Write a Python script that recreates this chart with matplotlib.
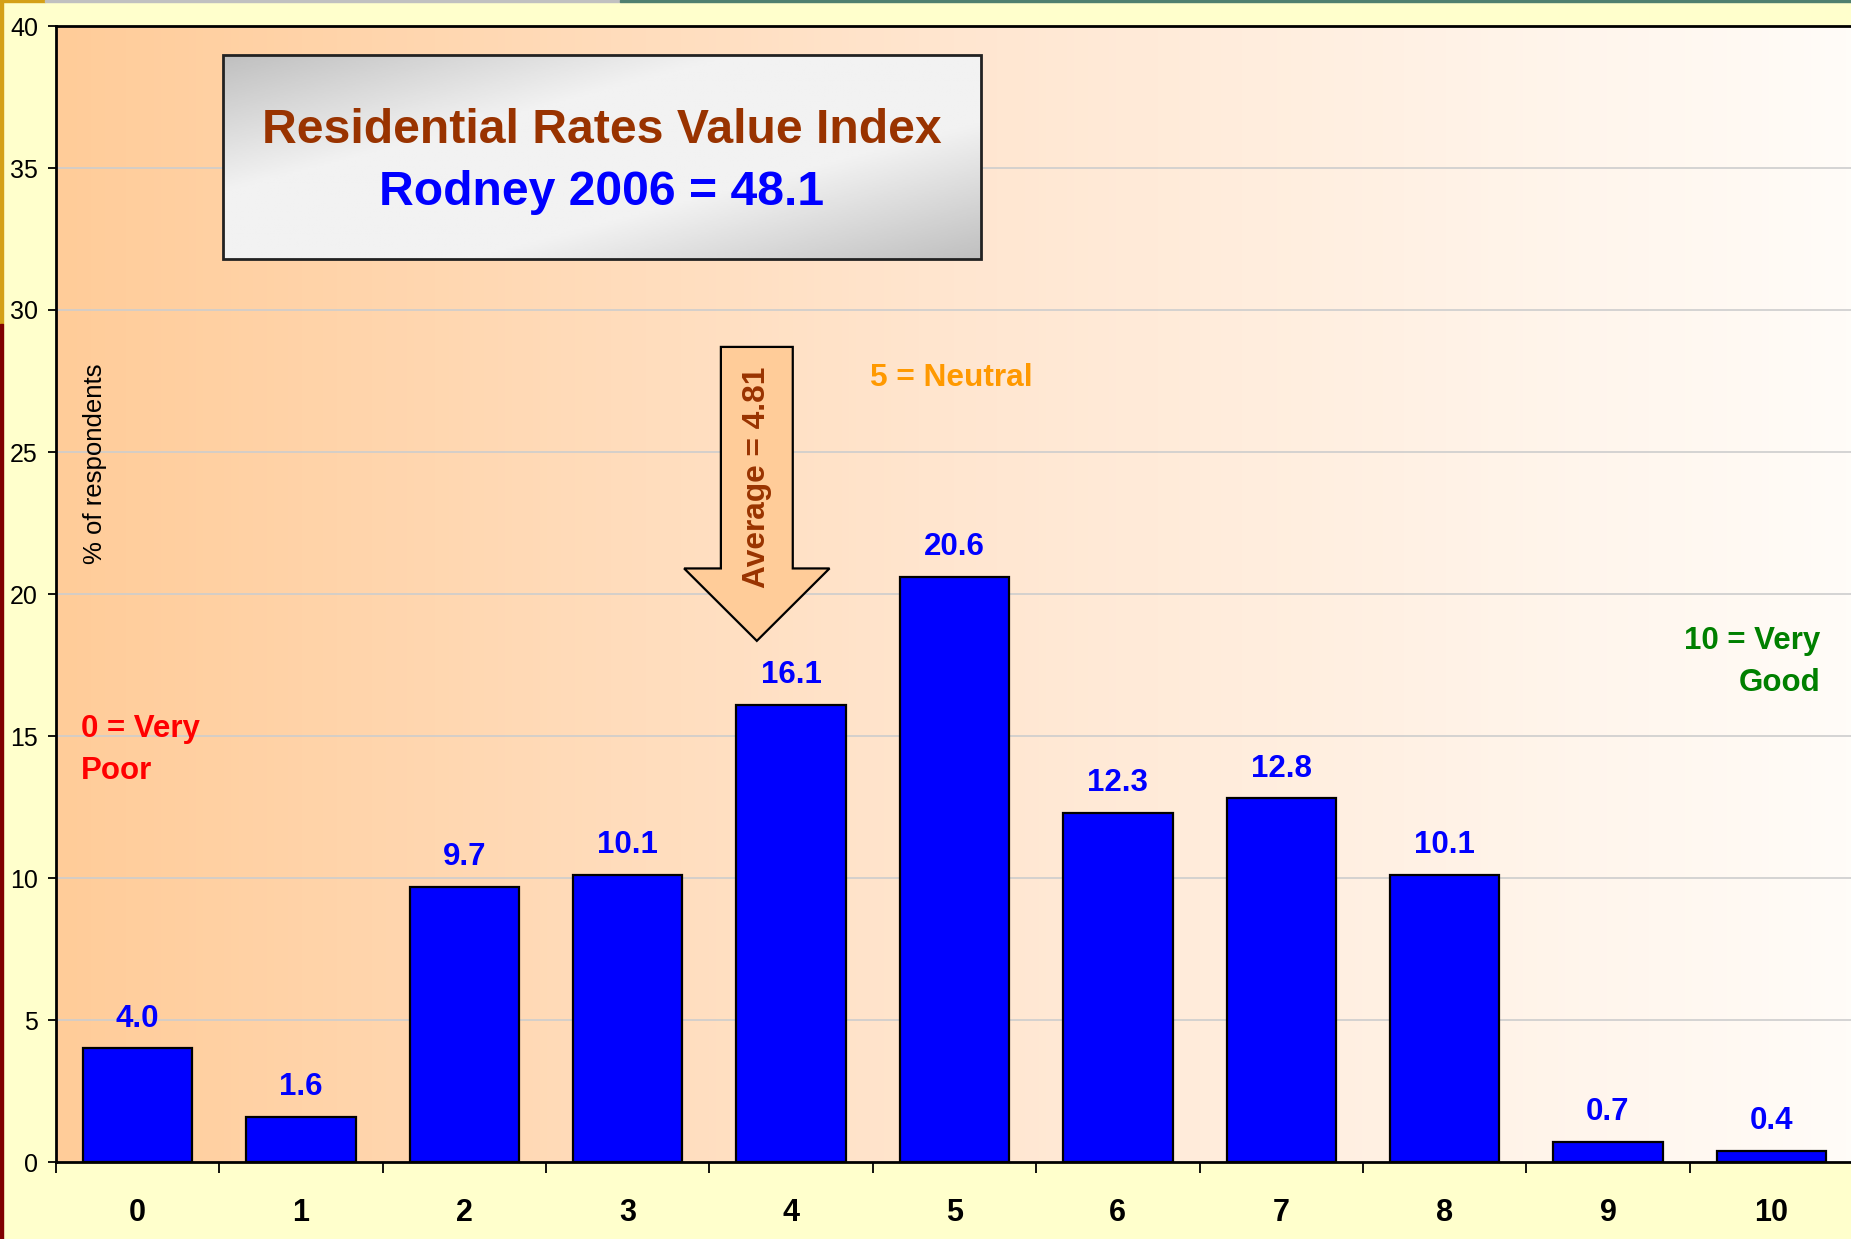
import numpy as np
import matplotlib.pyplot as plt
from matplotlib.patches import Rectangle, FancyArrow
from matplotlib.colors import LinearSegmentedColormap

plt.rcParams['font.family'] = ['Liberation Sans', 'DejaVu Sans']

# data
scores = ['0', '1', '2', '3', '4', '5', '6', '7', '8', '9', '10']
pct = [4.0, 1.6, 9.7, 10.1, 16.1, 20.6, 12.3, 12.8, 10.1, 0.7, 0.4]
y_ticks = [0, 5, 10, 15, 20, 25, 30, 35, 40]

title_line1 = 'Residential Rates Value Index'
title_line2 = 'Rodney 2006 = 48.1'
avg_label = 'Average = 4.81'

W, H = 1851, 1239
fig = plt.figure(figsize=(W / 100, H / 100), dpi=100, facecolor='#FFFFCC')

# slide decoration strips
fig.patches.append(Rectangle((0, 1 - 324 / H), 3 / W, 324 / H, transform=fig.transFigure,
                             color='#D4A017', zorder=0))
fig.patches.append(Rectangle((0, 0), 3 / W, 1 - 324 / H, transform=fig.transFigure,
                             color='#800000', zorder=0))
fig.patches.append(Rectangle((0, 1 - 2 / H), 45 / W, 2 / H, transform=fig.transFigure,
                             color='#D4A017', zorder=0))
fig.patches.append(Rectangle((45 / W, 1 - 2 / H), 575 / W, 2 / H, transform=fig.transFigure,
                             color='#C0C0C0', zorder=0))
fig.patches.append(Rectangle((620 / W, 1 - 2 / H), 1 - 620 / W, 2 / H, transform=fig.transFigure,
                             color='#4F7F6F', zorder=0))

ax = fig.add_axes([56 / W, (H - 1162) / H, 1797 / W, 1136 / H])
x = np.arange(len(scores))
ax.set_xlim(-0.5, 10.5)
ax.set_ylim(0, 40)

# plot area gradient, peach -> near white
grad = LinearSegmentedColormap.from_list('bg', ['#FFCC99', '#FFE6D0', '#FFFCF8'])
ax.imshow(np.linspace(0, 1, 256)[None, :], cmap=grad, aspect='auto',
          extent=(-0.5, 10.5, 0, 40), zorder=0)

for yv in y_ticks[1:-1]:
    ax.axhline(yv, color='#CDCDCD', lw=1.2, zorder=1)

bars = ax.bar(x, pct, width=0.67, color='#0000FF', edgecolor='black', lw=1.6, zorder=3)
for b, v in zip(bars, pct):
    ax.annotate(f'{v:.1f}', (b.get_x() + b.get_width() / 2, v), xytext=(0, 21.5),
                textcoords='offset points', ha='center', va='center',
                fontsize=22.5, fontweight='bold', color='#0000FF', zorder=4)

# axes styling
ax.set_yticks(y_ticks)
ax.tick_params(axis='y', labelsize=18, length=6, width=1.3, pad=7, direction='out')
ax.set_xticks(np.arange(-0.5, 11, 1))
ax.set_xticklabels([])
ax.tick_params(axis='x', which='major', length=8, width=1.3, direction='out')
ax.set_xticks(x, minor=True)
ax.set_xticklabels(scores, minor=True, fontsize=22, fontweight='bold')
ax.tick_params(axis='x', which='minor', length=0, pad=26)
for s in ['left', 'bottom', 'top']:
    ax.spines[s].set_linewidth(2)
ax.spines['right'].set_visible(False)

ax.text(-0.26, 24.6, '% of respondents', rotation=90, ha='center', va='center', fontsize=18.5)

# title box with diagonal gray gradient (dark top-left and bottom-right)
bx0, bx1, by0, by1 = 0.52, 5.16, 31.8, 38.98
gy, gx = np.mgrid[0:1:100j, 0:1:200j]
d = (gx + gy) / 2
box_cmap = LinearSegmentedColormap.from_list('box', ['#C0C0C0', '#F2F2F2', '#F2F2F2', '#C0C0C0'])
ax.imshow(d, cmap=box_cmap, aspect='auto', extent=(bx0, bx1, by0, by1), origin='upper', zorder=5)
ax.add_patch(Rectangle((bx0, by0), bx1 - bx0, by1 - by0, fill=False, ec='#222222', lw=2, zorder=6))
ax.text((bx0 + bx1) / 2, 36.33, title_line1, ha='center', va='center', fontsize=34.7,
        fontweight='bold', color='#993300', zorder=7)
ax.text((bx0 + bx1) / 2, 34.12, title_line2, ha='center', va='center', fontsize=34.7,
        fontweight='bold', color='#0000FF', zorder=7)

# average arrow
ax.add_patch(FancyArrow(3.79, 28.7, 0, -10.35, width=0.44, head_width=0.89, head_length=2.55,
                        length_includes_head=True, fc='#FFCC99', ec='black', lw=1.6, zorder=5))
ax.text(3.79, 24.12, avg_label, rotation=90, ha='center', va='center', fontsize=22.8,
        fontweight='bold', color='#993300', zorder=6)

ax.text(4.48, 27.6, '5 = Neutral', ha='left', va='center', fontsize=22.8,
        fontweight='bold', color='#FF9900', zorder=6)
ax.text(-0.35, 14.5, '0 = Very\nPoor', ha='left', va='center', fontsize=22.5,
        fontweight='bold', color='#FF0000', linespacing=1.5, zorder=6)
ax.text(10.3, 17.6, '10 = Very\nGood', ha='right', va='center', fontsize=22.5,
        fontweight='bold', color='#008000', linespacing=1.5, multialignment='right', zorder=6)

fig.savefig('out.png', dpi=100, facecolor=fig.get_facecolor())
